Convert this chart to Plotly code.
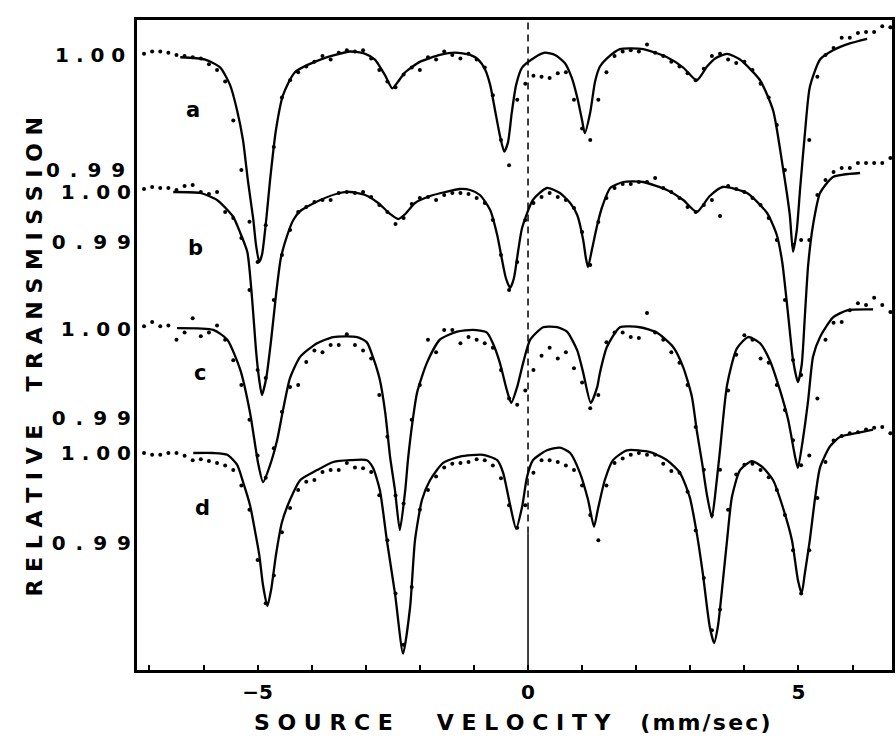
import plotly.graph_objects as go

# Channel velocities (mm/sec), shared by the four spectra
velocity = [-7.10, -6.95, -6.80, -6.65, -6.50, -6.35, -6.20, -6.05, -5.90, -5.75,
            -5.60, -5.45, -5.30, -5.15, -5.00, -4.85, -4.70, -4.55, -4.40, -4.25,
            -4.10, -3.95, -3.80, -3.65, -3.50, -3.35, -3.20, -3.05, -2.90, -2.75,
            -2.60, -2.45, -2.30, -2.15, -2.00, -1.85, -1.70, -1.55, -1.40, -1.25,
            -1.10, -0.95, -0.80, -0.65, -0.50, -0.35, -0.20, -0.05, 0.10, 0.25,
            0.40, 0.55, 0.70, 0.85, 1.00, 1.15, 1.30, 1.45, 1.60, 1.75,
            1.90, 2.05, 2.20, 2.35, 2.50, 2.65, 2.80, 2.95, 3.10, 3.25,
            3.40, 3.55, 3.70, 3.85, 4.00, 4.15, 4.30, 4.45, 4.60, 4.75,
            4.90, 5.05, 5.20, 5.35, 5.50, 5.65, 5.80, 5.95, 6.10, 6.25,
            6.40, 6.55, 6.70]

# Measured relative transmission
trans_a = [1.0001, 1.0003, 1.0003, 1.0002, 1.0000, 0.9999, 0.9998, 0.9997, 0.9992, 0.9987,
           0.9977, 0.9943, 0.9900, 0.9855, 0.9820, 0.9852, 0.9920, 0.9963, 0.9978, 0.9985,
           0.9990, 0.9994, 0.9999, 0.9996, 1.0002, 1.0004, 1.0003, 1.0004, 0.9997, 0.9987,
           0.9977, 0.9972, 0.9983, 0.9989, 0.9987, 0.9998, 0.9996, 1.0003, 1.0000, 0.9997,
           1.0001, 0.9996, 0.9989, 0.9965, 0.9926, 0.9904, 0.9961, 0.9975, 0.9982, 0.9981,
           0.9980, 0.9984, 0.9985, 0.9961, 0.9936, 0.9926, 0.9961, 0.9985, 0.9999, 1.0003,
           1.0004, 1.0003, 1.0009, 1.0002, 0.9999, 0.9994, 0.9990, 0.9984, 0.9978, 0.9988,
           0.9999, 1.0001, 0.9996, 0.9993, 0.9994, 0.9987, 0.9975, 0.9963, 0.9939, 0.9900,
           0.9835, 0.9839, 0.9926, 0.9981, 1.0000, 1.0006, 1.0015, 1.0015, 1.0019, 1.0020,
           1.0020, 1.0025, 1.0024]

trans_b = [1.0006, 1.0010, 1.0008, 1.0008, 1.0004, 1.0012, 1.0014, 1.0000, 0.9996, 1.0000,
           0.9960, 0.9948, 0.9908, 0.9804, 0.9644, 0.9628, 0.9784, 0.9874, 0.9924, 0.9960,
           0.9970, 0.9980, 0.9984, 0.9984, 0.9998, 1.0000, 0.9998, 1.0000, 0.9990, 0.9974,
           0.9960, 0.9936, 0.9948, 0.9976, 0.9988, 0.9990, 0.9984, 0.9994, 0.9998, 0.9998,
           0.9996, 0.9988, 0.9978, 0.9944, 0.9874, 0.9804, 0.9860, 0.9944, 0.9978, 0.9990,
           0.9998, 0.9990, 0.9984, 0.9968, 0.9920, 0.9854, 0.9940, 0.9988, 1.0008, 1.0016,
           1.0016, 1.0020, 1.0020, 1.0028, 1.0008, 1.0000, 0.9988, 0.9970, 0.9960, 0.9974,
           0.9984, 0.9952, 1.0012, 1.0006, 1.0000, 0.9988, 0.9974, 0.9948, 0.9904, 0.9784,
           0.9664, 0.9634, 0.9904, 0.9994, 1.0024, 1.0040, 1.0048, 1.0048, 1.0058, 1.0058,
           1.0058, 1.0058, 1.0068]

trans_c = [1.0003, 1.0008, 1.0003, 1.0004, 0.9988, 0.9996, 1.0012, 0.9992, 0.9996, 1.0004,
           0.9988, 0.9965, 0.9937, 0.9898, 0.9858, 0.9833, 0.9866, 0.9907, 0.9935, 0.9937,
           0.9963, 0.9976, 0.9974, 0.9982, 0.9982, 0.9994, 0.9982, 0.9976, 0.9967, 0.9926,
           0.9879, 0.9813, 0.9804, 0.9898, 0.9937, 0.9988, 0.9974, 0.9999, 0.9999, 0.9984,
           0.9991, 0.9988, 0.9984, 0.9979, 0.9954, 0.9922, 0.9915, 0.9931, 0.9954, 0.9970,
           0.9979, 0.9967, 0.9974, 0.9956, 0.9940, 0.9911, 0.9926, 0.9985, 0.9996, 0.9996,
           0.9991, 0.9990, 1.0018, 0.9996, 0.9988, 0.9974, 0.9962, 0.9937, 0.9890, 0.9842,
           0.9791, 0.9842, 0.9931, 0.9971, 0.9993, 0.9988, 0.9967, 0.9962, 0.9937, 0.9909,
           0.9875, 0.9847, 0.9858, 0.9922, 0.9988, 1.0007, 1.0008, 1.0021, 1.0029, 1.0027,
           1.0035, 1.0027, 1.0019]

trans_d = [1.0000, 0.9998, 0.9998, 1.0000, 1.0000, 0.9997, 0.9992, 0.9993, 0.9991, 0.9989,
           0.9986, 0.9981, 0.9964, 0.9937, 0.9881, 0.9833, 0.9864, 0.9912, 0.9939, 0.9959,
           0.9968, 0.9970, 0.9979, 0.9981, 0.9981, 0.9989, 0.9984, 0.9983, 0.9979, 0.9953,
           0.9903, 0.9844, 0.9787, 0.9851, 0.9937, 0.9959, 0.9974, 0.9984, 0.9988, 0.9989,
           0.9990, 0.9993, 0.9992, 0.9986, 0.9972, 0.9942, 0.9917, 0.9942, 0.9978, 0.9992,
           0.9992, 0.9990, 0.9986, 0.9981, 0.9964, 0.9931, 0.9903, 0.9964, 0.9989, 0.9994,
           0.9998, 1.0000, 0.9998, 0.9998, 0.9988, 0.9980, 0.9978, 0.9957, 0.9914, 0.9861,
           0.9803, 0.9826, 0.9937, 0.9976, 0.9987, 0.9988, 0.9981, 0.9973, 0.9959, 0.9931,
           0.9892, 0.9844, 0.9892, 0.9950, 0.9990, 1.0014, 1.0019, 1.0022, 1.0023, 1.0026,
           1.0028, 1.0029, 1.0022]

# Fitted spectra
fit_v_a = [-6.43, -5.97, -5.69, -5.51, -5.38, -5.27, -5.18, -5.08, -5.03, -4.97,
           -4.92, -4.84, -4.77, -4.66, -4.53, -4.31, -3.84, -3.29, -3.01, -2.83,
           -2.64, -2.51, -2.40, -2.27, -2.00, -1.63, -1.35, -1.07, -0.92, -0.79,
           -0.70, -0.61, -0.52, -0.44, -0.37, -0.30, -0.22, -0.11, 0.13, 0.31,
           0.50, 0.68, 0.81, 0.92, 1.00, 1.05, 1.15, 1.24, 1.33, 1.46,
           1.70, 2.13, 2.57, 2.87, 3.12, 3.31, 3.46, 3.68, 3.92, 4.29,
           4.53, 4.71, 4.84, 4.90, 4.97, 5.03, 5.12, 5.21, 5.40, 5.64,
           5.95, 6.27]
fit_t_a = [0.9998, 0.9996, 0.9989, 0.9974, 0.9952, 0.9926, 0.9891, 0.9857, 0.9835, 0.9820,
           0.9826, 0.9857, 0.9891, 0.9935, 0.9965, 0.9985, 0.9996, 1.0003, 1.0001, 0.9996,
           0.9982, 0.9971, 0.9977, 0.9985, 0.9994, 1.0000, 1.0002, 1.0000, 0.9996, 0.9987,
           0.9974, 0.9952, 0.9930, 0.9916, 0.9924, 0.9950, 0.9974, 0.9989, 0.9998, 1.0002,
           1.0000, 0.9993, 0.9980, 0.9961, 0.9943, 0.9932, 0.9950, 0.9977, 0.9990, 0.9997,
           1.0005, 1.0005, 0.9998, 0.9989, 0.9978, 0.9990, 0.9997, 1.0001, 0.9996, 0.9978,
           0.9952, 0.9903, 0.9861, 0.9829, 0.9848, 0.9883, 0.9932, 0.9972, 0.9996, 1.0004,
           1.0010, 1.0014]

fit_v_b = [-6.56, -6.06, -5.75, -5.45, -5.32, -5.19, -5.10, -5.03, -4.97, -4.92,
           -4.84, -4.75, -4.66, -4.57, -4.45, -4.34, -4.21, -3.84, -3.48, -3.29,
           -3.01, -2.77, -2.55, -2.40, -2.27, -2.09, -1.81, -1.53, -1.26, -1.07,
           -0.89, -0.70, -0.57, -0.48, -0.41, -0.33, -0.26, -0.18, -0.11, 0.09,
           0.35, 0.59, 0.78, 0.91, 1.02, 1.07, 1.11, 1.18, 1.28, 1.37,
           1.52, 1.76, 2.13, 2.57, 2.87, 3.12, 3.36, 3.60, 4.05, 4.42,
           4.60, 4.70, 4.81, 4.90, 4.99, 5.06, 5.12, 5.18, 5.27, 5.40,
           5.64, 6.14]
fit_t_b = [1.0000, 0.9998, 0.9984, 0.9950, 0.9918, 0.9880, 0.9784, 0.9684, 0.9624, 0.9594,
           0.9628, 0.9704, 0.9794, 0.9868, 0.9914, 0.9944, 0.9962, 0.9984, 0.9998, 1.0000,
           0.9994, 0.9978, 0.9956, 0.9946, 0.9956, 0.9978, 0.9992, 1.0000, 1.0006, 1.0004,
           0.9994, 0.9964, 0.9914, 0.9864, 0.9828, 0.9808, 0.9828, 0.9884, 0.9928, 0.9984,
           1.0008, 0.9998, 0.9978, 0.9954, 0.9904, 0.9868, 0.9850, 0.9884, 0.9934, 0.9970,
           1.0008, 1.0020, 1.0020, 1.0004, 0.9984, 0.9960, 0.9992, 1.0010, 0.9998, 0.9958,
           0.9914, 0.9860, 0.9754, 0.9664, 0.9620, 0.9654, 0.9754, 0.9854, 0.9934, 0.9998,
           1.0030, 1.0038]

fit_v_c = [-6.49, -5.82, -5.56, -5.32, -5.14, -4.99, -4.90, -4.77, -4.64, -4.53,
           -4.40, -4.21, -3.90, -3.60, -3.16, -2.98, -2.87, -2.74, -2.64, -2.55,
           -2.46, -2.37, -2.27, -2.22, -2.14, -2.05, -1.87, -1.63, -1.31, -1.02,
           -0.76, -0.65, -0.52, -0.39, -0.31, -0.20, -0.09, 0.04, 0.28, 0.54,
           0.72, 0.91, 1.02, 1.16, 1.28, 1.33, 1.46, 1.70, 2.07, 2.38,
           2.68, 2.87, 3.03, 3.12, 3.22, 3.31, 3.40, 3.47, 3.55, 3.68,
           3.86, 4.07, 4.29, 4.47, 4.66, 4.81, 4.94, 4.99, 5.08, 5.18,
           5.27, 5.40, 5.64, 5.90, 6.38]
fit_t_c = [1.0001, 0.9999, 0.9988, 0.9954, 0.9906, 0.9849, 0.9828, 0.9847, 0.9875, 0.9909,
           0.9945, 0.9969, 0.9984, 0.9991, 0.9991, 0.9985, 0.9969, 0.9943, 0.9906, 0.9856,
           0.9819, 0.9774, 0.9819, 0.9853, 0.9894, 0.9929, 0.9962, 0.9988, 0.9997, 0.9999,
           0.9996, 0.9984, 0.9962, 0.9931, 0.9917, 0.9935, 0.9962, 0.9988, 1.0002, 1.0002,
           0.9997, 0.9976, 0.9951, 0.9917, 0.9935, 0.9951, 0.9980, 1.0002, 1.0002, 0.9996,
           0.9980, 0.9957, 0.9924, 0.9886, 0.9849, 0.9813, 0.9788, 0.9819, 0.9864, 0.9937,
           0.9978, 0.9991, 0.9984, 0.9965, 0.9931, 0.9898, 0.9856, 0.9844, 0.9875, 0.9920,
           0.9969, 0.9991, 1.0013, 1.0021, 1.0022]

fit_v_d = [-6.19, -5.82, -5.56, -5.38, -5.27, -5.14, -5.05, -4.97, -4.90, -4.82,
           -4.75, -4.66, -4.55, -4.40, -4.21, -3.90, -3.60, -3.29, -2.98, -2.87,
           -2.74, -2.61, -2.46, -2.31, -2.18, -2.09, -1.96, -1.81, -1.57, -1.26,
           -0.83, -0.57, -0.46, -0.33, -0.22, -0.11, -0.02, 0.09, 0.35, 0.59,
           0.78, 0.96, 1.11, 1.22, 1.29, 1.42, 1.57, 1.83, 2.26, 2.57,
           2.81, 2.99, 3.12, 3.23, 3.36, 3.44, 3.51, 3.60, 3.68, 3.77,
           3.92, 4.14, 4.34, 4.53, 4.71, 4.88, 4.99, 5.06, 5.12, 5.21,
           5.31, 5.40, 5.58, 5.77, 6.14, 6.38]
fit_t_d = [1.0000, 1.0000, 0.9998, 0.9987, 0.9968, 0.9942, 0.9914, 0.9887, 0.9853, 0.9830,
           0.9848, 0.9887, 0.9923, 0.9948, 0.9970, 0.9981, 0.9990, 0.9992, 0.9992, 0.9984,
           0.9959, 0.9903, 0.9844, 0.9777, 0.9829, 0.9903, 0.9948, 0.9970, 0.9989, 0.9996,
           0.9998, 0.9992, 0.9978, 0.9942, 0.9916, 0.9940, 0.9973, 0.9992, 1.0003, 1.0006,
           1.0000, 0.9978, 0.9948, 0.9918, 0.9937, 0.9970, 0.9992, 1.0003, 1.0001, 0.9992,
           0.9978, 0.9951, 0.9911, 0.9867, 0.9807, 0.9789, 0.9807, 0.9856, 0.9903, 0.9951,
           0.9981, 0.9991, 0.9984, 0.9970, 0.9940, 0.9903, 0.9859, 0.9844, 0.9867, 0.9903,
           0.9951, 0.9984, 1.0007, 1.0018, 1.0023, 1.0026]

# Spectrum labels and where they sit
spec_labels = ["a", "b", "c", "d"]
label_v = [-6.19, -6.14, -6.06, -6.01]
label_t = [0.9952, 0.9888, 0.9951, 0.9939]

# Each spectrum has its own stacked transmission scale
y_ranges = [[0.94652, 1.00304], [0.9044, 1.0344], [0.96169, 1.03472], [0.97589, 1.04811]]
y_tickvals = [0.99, 1.00]
y_ticktext = ["0\u2002.\u20029\u20029", "1 . 0 0"]

x_tickvals = [-7, -6, -5, -4, -3, -2, -1, 0, 1, 2, 3, 4, 5, 6]
x_ticktext = ["", "", "\u22125", "", "", "", "", "0", "", "", "", "", "5", ""]

FONT = "DejaVu Sans"
INK = "black"

spectra = [
    (trans_a, fit_v_a, fit_t_a),
    (trans_b, fit_v_b, fit_t_b),
    (trans_c, fit_v_c, fit_t_c),
    (trans_d, fit_v_d, fit_t_d),
]
axis_ids = ["y", "y2", "y3", "y4"]

fig = go.Figure()
for (dots, fv, ft), ax in zip(spectra, axis_ids):
    fig.add_trace(go.Scatter(
        x=velocity, y=dots, yaxis=ax, mode="markers",
        marker=dict(size=4, color=INK), showlegend=False, hoverinfo="skip"))
    fig.add_trace(go.Scatter(
        x=fv, y=ft, yaxis=ax, mode="lines",
        line=dict(color=INK, width=2.3, shape="spline", smoothing=0.6),
        showlegend=False, hoverinfo="skip"))

def y_axis(idx):
    d = dict(
        range=y_ranges[idx], tickvals=y_tickvals, ticktext=y_ticktext,
        ticks="", showgrid=False, zeroline=False,
        tickfont=dict(family=FONT, size=20, color=INK, weight="bold"),
        ticklabelstandoff=5, anchor="x", side="left",
    )
    if idx == 0:
        d.update(showline=True, mirror=True, linewidth=2.5, linecolor=INK)
    else:
        d.update(overlaying="y", showline=False)
    return d

layout = dict(
    width=896, height=740,
    margin=dict(l=137, r=4, t=20, b=70, autoexpand=False),
    paper_bgcolor="white", plot_bgcolor="white",
    showlegend=False,
    xaxis=dict(
        range=[-7.23, 6.73], tickvals=x_tickvals, ticktext=x_ticktext,
        ticks="inside", ticklen=5, tickwidth=1.5, tickcolor=INK,
        showline=True, mirror=True, linewidth=2.5, linecolor=INK,
        showgrid=False, zeroline=False, ticklabelstandoff=2,
        tickfont=dict(family=FONT, size=20, color=INK, weight="bold"),
    ),
)
for i, ax in enumerate(axis_ids):
    key = "yaxis" if i == 0 else "yaxis%d" % (i + 1)
    layout[key] = y_axis(i)
fig.update_layout(**layout)

# zero-velocity reference line
fig.add_shape(type="line", xref="x", yref="paper", x0=0, x1=0, y0=0.21, y1=1.0,
              line=dict(color=INK, width=1.5, dash="7px,5px"), layer="below")
fig.add_shape(type="line", xref="x", yref="paper", x0=0, x1=0, y0=0.0, y1=0.21,
              line=dict(color=INK, width=1.5), layer="below")

# spectrum labels
for lab, v, t, ax in zip(spec_labels, label_v, label_t, axis_ids):
    fig.add_annotation(x=v, y=t, xref="x", yref=ax, text="<b>%s</b>" % lab,
                       showarrow=False, font=dict(family=FONT, size=21, color=INK))

# axis titles
fig.add_annotation(
    x=0.4967, y=-0.081, xref="paper", yref="paper", showarrow=False,
    xanchor="center", yanchor="middle",
    text="<b>S O U R C E\u2003\u2003V E L O C I T Y\u2003 (\u200am\u200am\u200a/\u200as\u200ae\u200ac\u200a)</b>",
    font=dict(family=FONT, size=22, color=INK))
fig.add_annotation(
    x=-0.1364, y=0.4808, xref="paper", yref="paper", showarrow=False,
    xanchor="center", yanchor="middle", textangle=-90,
    text="<b>R E L A T I V E\u2003\u2002T R A N S M I S S I O N</b>",
    font=dict(family=FONT, size=22, color=INK))

fig.write_html("out.html")
